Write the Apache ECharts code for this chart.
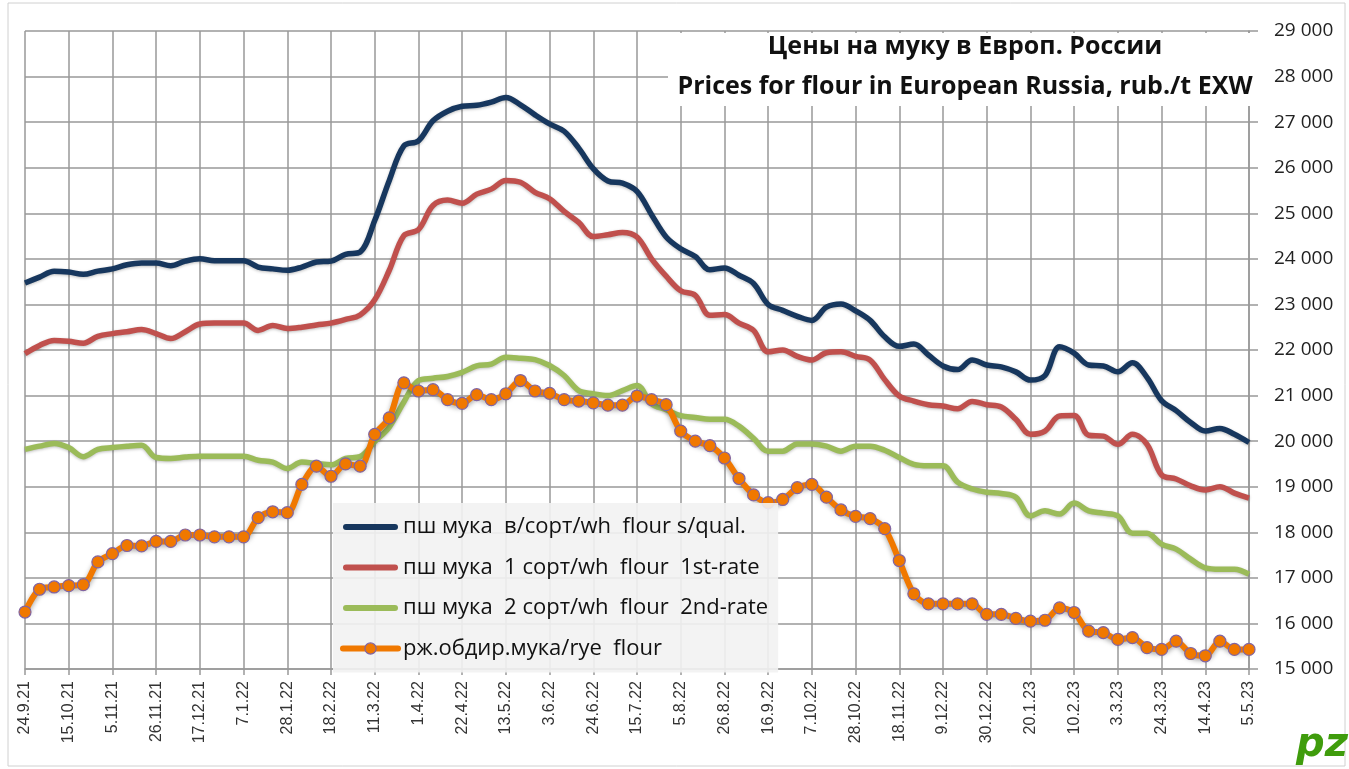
<!DOCTYPE html>
<html lang="ru">
<head>
<meta charset="utf-8" />
<title>Цены на муку в Европ. России</title>
<script src="https://cdn.jsdelivr.net/npm/echarts@6/dist/echarts.min.js"></script>
<style>
  html, body { margin: 0; padding: 0; background: #fff; }
  #chart { width: 1349px; height: 769px; }
</style>
</head>
<body>
<div id="chart"></div>
<script>
// weekly dates, 24.9.21 .. 5.5.23
const weeks = [
  "24.9.21", "1.10.21", "8.10.21", "15.10.21", "22.10.21", "29.10.21", "5.11.21", "12.11.21", "19.11.21", "26.11.21",
  "3.12.21", "10.12.21", "17.12.21", "24.12.21", "31.12.21", "7.1.22", "14.1.22", "21.1.22", "28.1.22", "4.2.22",
  "11.2.22", "18.2.22", "25.2.22", "4.3.22", "11.3.22", "18.3.22", "25.3.22", "1.4.22", "8.4.22", "15.4.22",
  "22.4.22", "29.4.22", "6.5.22", "13.5.22", "20.5.22", "27.5.22", "3.6.22", "10.6.22", "17.6.22", "24.6.22",
  "1.7.22", "8.7.22", "15.7.22", "22.7.22", "29.7.22", "5.8.22", "12.8.22", "19.8.22", "26.8.22", "2.9.22",
  "9.9.22", "16.9.22", "23.9.22", "30.9.22", "7.10.22", "14.10.22", "21.10.22", "28.10.22", "4.11.22", "11.11.22",
  "18.11.22", "25.11.22", "2.12.22", "9.12.22", "16.12.22", "23.12.22", "30.12.22", "6.1.23", "13.1.23", "20.1.23",
  "27.1.23", "3.2.23", "10.2.23", "17.2.23", "24.2.23", "3.3.23", "10.3.23", "17.3.23", "24.3.23", "31.3.23",
  "7.4.23", "14.4.23", "21.4.23", "28.4.23", "5.5.23"
];

// пш мука в/сорт
const premium = [
  23470, 23600, 23730, 23710, 23660, 23730, 23780, 23870, 23910, 23910,
  23850, 23950, 24000, 23960, 23960, 23960, 23820, 23780, 23750, 23820,
  23930, 23950, 24100, 24150, 24840, 25720, 26480, 26590, 27030, 27240,
  27350, 27370, 27440, 27540, 27380, 27160, 26960, 26800, 26430, 25980,
  25710, 25660, 25480, 24970, 24480, 24220, 24050, 23760, 23800, 23640,
  23460, 23000, 22870, 22740, 22650, 22940, 23010, 22860, 22650, 22290,
  22080, 22130, 21890, 21650, 21570, 21780, 21670, 21630, 21520, 21340,
  21440, 22070, 21930, 21670, 21650, 21520, 21720, 21400, 20890, 20670,
  20410, 20220, 20280, 20150, 19970
];

// пш мука 1 сорт
const firstRate = [
  21920, 22100, 22210, 22190, 22150, 22300, 22360, 22400, 22450, 22360,
  22250, 22400, 22570, 22590, 22590, 22590, 22430, 22540, 22470, 22500,
  22550, 22590, 22670, 22770, 23100, 23750, 24510, 24640, 25170, 25290,
  25220, 25420, 25530, 25720, 25680, 25460, 25320, 25040, 24800, 24490,
  24530, 24580, 24480, 24000, 23620, 23300, 23200, 22760, 22780, 22590,
  22430, 21960, 22000, 21860, 21780, 21940, 21960, 21860, 21780, 21350,
  20990, 20880, 20800, 20770, 20710, 20870, 20800, 20750, 20480, 20150,
  20220, 20550, 20560, 20130, 20110, 19930, 20150, 19930, 19260, 19170,
  19020, 18930, 19000, 18860, 18750
];

// пш мука 2 сорт
const secondRate = [
  19820, 19890, 19950, 19860, 19660, 19820, 19860, 19890, 19910, 19640,
  19620, 19650, 19670, 19670, 19670, 19670, 19580, 19540, 19400, 19540,
  19510, 19480, 19620, 19660, 19990, 20310, 20860, 21330, 21380, 21420,
  21510, 21650, 21690, 21840, 21820, 21790, 21660, 21440, 21110, 21040,
  21000, 21110, 21220, 20820, 20690, 20560, 20520, 20480, 20480, 20330,
  20060, 19780, 19780, 19940, 19940, 19890, 19780, 19890, 19890, 19800,
  19640, 19490, 19460, 19460, 19100, 18950, 18880, 18850, 18770, 18360,
  18470, 18400, 18640, 18470, 18420, 18360, 17980, 17980, 17740, 17630,
  17410, 17220, 17190, 17190, 17080
];

// рж. обдир. мука
const rye = [
  16250, 16750, 16800, 16830, 16850, 17350, 17530, 17710, 17700, 17800,
  17800, 17940, 17940, 17900, 17900, 17900, 18320, 18450, 18430, 19050,
  19450, 19230, 19500, 19450, 20150, 20510, 21280, 21100, 21130, 20910,
  20830, 21020, 20910, 21040, 21330, 21100, 21050, 20910, 20880, 20840,
  20790, 20790, 20990, 20910, 20800, 20220, 20000, 19900, 19630, 19180,
  18820, 18650, 18720, 18980, 19050, 18770, 18490, 18350, 18300, 18080,
  17380, 16650, 16430, 16430, 16430, 16430, 16200, 16200, 16110, 16050,
  16070, 16340, 16240, 15830, 15800, 15650, 15690, 15470, 15430, 15610,
  15340, 15290, 15610, 15430, 15430
];

const names = [
  "пш мука  в/сорт/wh  flour s/qual.",
  "пш мука  1 сорт/wh  flour  1st-rate",
  "пш мука  2 сорт/wh  flour  2nd-rate",
  "рж.обдир.мука/rye  flour"
];

// thick rounded bar for the plain-line legend entries
const barIcon = "path://M3,0L52,0A3,3,0,0,1,52,6L3,6A3,3,0,0,1,3,0Z";

const chart = echarts.init(document.getElementById("chart"));
const gridColor = "#999999";
const lineShadow = { shadowColor: "rgba(0,0,0,0.25)", shadowBlur: 3, shadowOffsetY: 1 };

const option = {
  animation: false,
  backgroundColor: "#fff",
  grid: { left: 25, right: 100, top: 31, bottom: 100 },
  legend: {
    orient: "vertical",
    left: 333,
    top: 503,
    padding: [12, 10, 12, 7],
    backgroundColor: "rgba(242,242,242,0.9)",
    itemWidth: 55,
    itemHeight: 14,
    itemGap: 16.5,
    symbolKeepAspect: true,
    textStyle: { fontFamily: "Open Sans", fontSize: 22, color: "#111", lineHeight: 24 },
    data: [
      { name: names[0], icon: barIcon },
      { name: names[1], icon: barIcon },
      { name: names[2], icon: barIcon },
      {
        name: names[3],
        lineStyle: { width: 6, color: "#F07800", cap: "round" },
        itemStyle: { color: "#F07800", borderColor: "#8064A2", borderWidth: 1.2 }
      }
    ]
  },
  xAxis: {
    type: "category",
    data: weeks,
    boundaryGap: false,
    axisLine: { lineStyle: { color: gridColor, width: 1.5 } },
    axisTick: { interval: 2, length: 6, lineStyle: { color: gridColor, width: 1.5 } },
    axisLabel: {
      interval: 2,
      rotate: 90,
      margin: 12,
      fontFamily: "Liberation Sans",
      fontSize: 16,
      color: "#333"
    },
    splitLine: { show: true, interval: 2, lineStyle: { color: gridColor, width: 1.5 } }
  },
  yAxis: {
    type: "value",
    position: "right",
    min: 15000,
    max: 29000,
    interval: 1000,
    axisLine: { show: true, lineStyle: { color: gridColor, width: 1.5 } },
    axisTick: { show: true, length: 9, lineStyle: { color: gridColor, width: 1.5 } },
    axisLabel: {
      margin: 25,
      fontFamily: "Open Sans",
      fontSize: 19,
      color: "#222",
      formatter: v => String(v).replace(/\B(?=(\d{3})+(?!\d))/g, " ")
    },
    splitLine: { lineStyle: { color: gridColor, width: 1.5 } }
  },
  graphic: [
    {
      type: "rect",
      shape: { x: 8, y: 3, width: 1337, height: 763 },
      style: { fill: "none", stroke: "#d0d0d0", lineWidth: 1 },
      z: 1
    },
    {
      type: "rect",
      shape: { x: 668, y: 33, width: 594, height: 73 },
      style: { fill: "#fff" },
      z: 10
    },
    {
      type: "text",
      x: 965, y: 47,
      style: {
        text: "Цены на муку в Европ. России",
        fontFamily: "Open Sans", fontWeight: "bold", fontSize: 25,
        fill: "#111", align: "center", verticalAlign: "middle"
      },
      z: 11
    },
    {
      type: "text",
      x: 965, y: 87,
      style: {
        text: "Prices for flour in European Russia, rub./t EXW",
        fontFamily: "Open Sans", fontWeight: "bold", fontSize: 25,
        fill: "#111", align: "center", verticalAlign: "middle"
      },
      z: 11
    },
    {
      type: "text",
      x: 1296, y: 726,
      style: {
        text: "pz",
        fontFamily: "DejaVu Sans", fontWeight: "bold", fontStyle: "italic", fontSize: 40,
        fill: "#3f9c0c"
      },
      z: 11
    }
  ],
  series: [
    {
      name: names[0], type: "line", data: premium, smooth: 0.35,
      symbol: "none", color: "#17375E",
      lineStyle: Object.assign({ width: 5.5, color: "#17375E" }, lineShadow)
    },
    {
      name: names[1], type: "line", data: firstRate, smooth: 0.35,
      symbol: "none", color: "#C0504D",
      lineStyle: Object.assign({ width: 5.5, color: "#C0504D" }, lineShadow)
    },
    {
      name: names[2], type: "line", data: secondRate, smooth: 0.35,
      symbol: "none", color: "#9BBB59",
      lineStyle: Object.assign({ width: 5.5, color: "#9BBB59" }, lineShadow)
    },
    {
      name: names[3], type: "line", data: rye, smooth: 0.3,
      symbol: "circle", symbolSize: 12, showAllSymbol: true, color: "#F07800",
      lineStyle: { width: 6, color: "#F07800", shadowColor: "rgba(0,0,0,0.35)", shadowBlur: 5, shadowOffsetY: 2 },
      itemStyle: { color: "#F07800", borderColor: "#8064A2", borderWidth: 1.2 }
    }
  ]
};

chart.setOption(option);
window.onresize = function () {
  chart.resize();
};
</script>
</body>
</html>
